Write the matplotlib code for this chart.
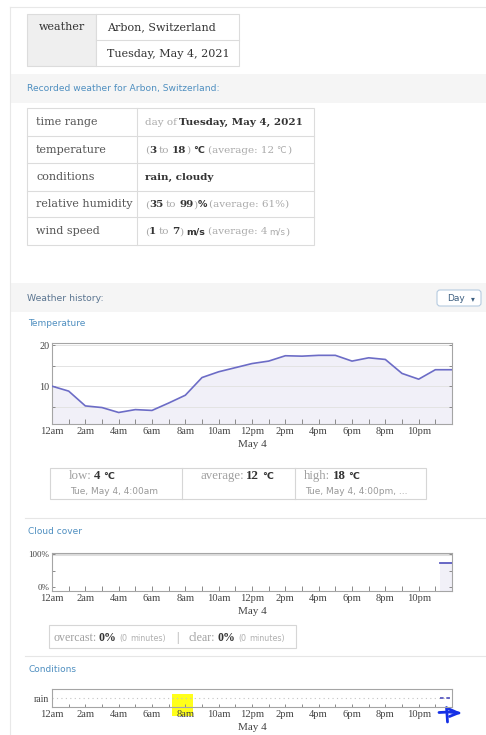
import matplotlib
matplotlib.use('Agg')
import matplotlib.pyplot as plt
from matplotlib.patches import Rectangle, FancyBboxPatch

# ---------------- data ----------------
hours = list(range(25))
temps = [10.0, 8.8, 5.2, 4.8, 3.6, 4.3, 4.1, 5.9, 7.8, 12.1, 13.5, 14.5, 15.5,
         16.1, 17.4, 17.3, 17.5, 17.5, 16.1, 16.9, 16.5, 13.1, 11.7, 14.0, 14.0]
cloud_hours = [23.3, 24.0]
cloud_values = [74, 74]
cond_categories = ['rain']
cond_hours = [23.3, 24.0]
cond_values = ['rain', 'rain']
hour_labels = ['12am', '2am', '4am', '6am', '8am', '10am', '12pm', '2pm', '4pm',
               '6pm', '8pm', '10pm']
date_label = 'May 4'

# ---------------- figure ----------------
W, H = 486, 735
fig = plt.figure(figsize=(W / 100, H / 100), dpi=100)
bg = fig.add_axes([0, 0, 1, 1])
bg.set_xlim(0, W)
bg.set_ylim(H, 0)
bg.axis('off')
R = fig.canvas.get_renderer()

SERIF = 'Liberation Serif'
TSERIF = 'DejaVu Serif'
SANS = 'DejaVu Sans'
DARK = '#333333'
BLUE = '#4f8fc0'
BORDER = '#dcdcdc'
SP = 2.6


def runs(x, y, parts, **common):
    cur = x
    for s, kw in parts:
        lead = len(s) - len(s.lstrip(' '))
        trail = len(s) - len(s.rstrip(' '))
        core = s.strip(' ')
        d = dict(common)
        d.update(kw)
        cur += lead * SP
        if core:
            t = bg.text(cur, y, core, ha='left', va='baseline', **d)
            cur += t.get_window_extent(R).width
        cur += trail * SP
    return cur


def rect(x0, y0, x1, y1, fc='none', ec=BORDER, lw=0.8, z=1):
    bg.add_patch(Rectangle((x0, y0), x1 - x0, y1 - y0, fc=fc, ec=ec, lw=lw, zorder=z))


def hline(y, x0, x1, c='#e6e6e6', lw=0.8):
    bg.plot([x0, x1], [y, y], color=c, lw=lw, zorder=1)


def vline(x, y0, y1, c=BORDER, lw=0.8):
    bg.plot([x, x], [y0, y1], color=c, lw=lw, zorder=1)


# page frame
hline(7, 10, W, c='#e8e8e8')
vline(10, 7, H, c='#e8e8e8')

# top table
rect(27, 14, 96, 66, fc='#efefef', ec=BORDER)
rect(96, 14, 239, 66, fc='white', ec=BORDER)
hline(39.5, 96, 239, c=BORDER)
sv = dict(family=TSERIF, size=8, color=DARK)
bg.text(62, 30, 'weather', ha='center', va='baseline', **sv)
bg.text(107, 30, 'Arbon, Switzerland', ha='left', va='baseline', **sv)
bg.text(107, 56.5, 'Tuesday, May 4, 2021', ha='left', va='baseline', **sv)

# band 1
bg.add_patch(Rectangle((10.5, 74), W - 10, 29, fc='#f5f5f5', ec='none', zorder=0))
bg.text(27, 88, 'Recorded weather for Arbon, Switzerland:', family=SANS, size=6.6,
        color=BLUE, va='center', ha='left')

# table 2
rows_y = [108, 136, 163, 191, 217, 245]
rect(27, 108, 314, 245, fc='white', ec=BORDER)
for yy in rows_y[1:-1]:
    hline(yy, 27, 314, c=BORDER)
vline(137, 108, 245)
left_labels = ['time range', 'temperature', 'conditions', 'relative humidity', 'wind speed']
g = dict(color='#aaaaaa')
b = dict(weight='bold', color=DARK)
u = dict(weight='bold', color=DARK, family=SANS, size=6.8)
ug = dict(color='#aaaaaa', family=SANS, size=6.3)
right_parts = [
    [('day of ', g), ('Tuesday, May 4, 2021', b)],
    [('(', g), ('3', b), (' to ', g), ('18', b), (')', g), (' °C', u), (' (average: 12 ', g), ('°C', ug), (')', g)],
    [('rain, cloudy', b)],
    [('(', g), ('35', b), (' to ', g), ('99', b), (')', g), ('%', u), (' (average: 61%)', g)],
    [('(', g), ('1', b), (' to ', g), ('7', b), (')', g), (' m/s', u), (' (average: 4 ', g), ('m/s', ug), (')', g)],
]
for i, (lab, parts) in enumerate(zip(left_labels, right_parts)):
    yc = (rows_y[i] + rows_y[i + 1]) / 2 + 3.2
    bg.text(36, yc, lab, family=TSERIF, size=8, color='#555555', va='baseline', ha='left')
    runs(145, yc, parts, family=TSERIF, size=7.5)

# band 2
bg.add_patch(Rectangle((10.5, 283), W - 10, 29, fc='#f5f5f5', ec='none', zorder=0))
bg.text(27, 298, 'Weather history:', family=SANS, size=6.7, color='#5a7590',
        va='center', ha='left')
bg.add_patch(FancyBboxPatch((437, 290), 44, 16,
                            boxstyle='round,pad=0,rounding_size=3',
                            fc='white', ec='#b6cbe0', lw=0.8, zorder=2))
bg.text(456, 298.5, 'Day', family=SANS, size=6.5, color='#3d5f80', va='center',
        ha='center', zorder=3)
bg.text(473, 298.5, '▾', family=SANS, size=5.5, color='#3d5f80', va='center',
        ha='center', zorder=3)

# section headings
for txt, yy in [('Temperature', 323), ('Cloud cover', 531), ('Conditions', 670)]:
    bg.text(28, yy, txt, family=SANS, size=6.5, color=BLUE, va='center', ha='left')

hline(518, 25, W)
hline(656, 25, W)


def px_axes(x0, y0, x1, y1):
    a = fig.add_axes([x0 / W, 1 - y1 / H, (x1 - x0) / W, (y1 - y0) / H])
    a.set_facecolor('none')
    return a


def style_time_axis(a):
    for s in a.spines.values():
        s.set_color('#a5a5a5')
        s.set_linewidth(0.8)
    a.set_xlim(0, 24)
    a.set_xticks(range(0, 23, 2))
    a.set_xticklabels(hour_labels)
    a.set_xticks(list(range(1, 24, 2)) + [24], minor=True)
    a.tick_params(axis='x', which='both', direction='in', length=3.5,
                  color='#8a8a8a', width=0.7, pad=2, labelsize=7.6, labelcolor='#444444')
    a.tick_params(axis='y', which='both', direction='in', length=2.5, color='#8a8a8a',
                  width=0.7, pad=2, labelsize=7.3, labelcolor='#444444',
                  left=True, right=True)
    for lab in a.get_xticklabels() + a.get_yticklabels():
        lab.set_family(SERIF)


# temperature chart
ax = px_axes(52, 343, 452, 424)
ylo, yhi = 0.8, 20.5
ax.fill_between(hours, temps, ylo, color='#f1f0f8', lw=0, zorder=0.3)
ax.plot(hours, temps, color='#6c6cc6', lw=1.2, zorder=3)
ax.set_ylim(ylo, yhi)
ax.set_yticks([10, 20])
ax.set_yticks([5, 15], minor=True)
ax.grid(axis='y', which='both', color='#e3e3e3', lw=0.7)
style_time_axis(ax)
bg.text(252, 444, date_label, family=SERIF, size=8, color='#444444', ha='center', va='center')

# temperature stats box
rect(50, 468, 426, 499, fc='white', ec='#d6d6d6')
vline(182, 468, 499, c='#d6d6d6')
vline(295, 468, 499, c='#d6d6d6')
st = dict(family=SERIF, size=9.3)
runs(69, 479, [('low: ', dict(color='#a0a0a0')), ('4', b), (' °C', u)], **st)
runs(200, 479, [('average: ', dict(color='#a0a0a0')), ('12', b), (' °C', u)], **st)
runs(304, 479, [('high: ', dict(color='#a0a0a0')), ('18', b), (' °C', u)], **st)
bg.text(70, 491, 'Tue, May 4, 4:00am', family=SANS, size=6.5, color='#999999', va='center')
bg.text(305, 491, 'Tue, May 4, 4:00pm, ...', family=SANS, size=6.5, color='#999999', va='center')

# cloud cover chart
ac = px_axes(52, 553, 452, 591)
clo, chi = -12, 103
ac.fill_between(cloud_hours, cloud_values, clo, color='#f1f0f8', lw=0, zorder=0.3)
ac.plot(cloud_hours, cloud_values, color='#5a5ac0', lw=1.3, zorder=3)
ac.set_ylim(clo, chi)
ac.set_yticks([0, 100])
ac.set_yticklabels(['0%', '100%'])
ac.set_yticks([50], minor=True)
ac.axhline(100, color='#dedede', lw=2.2, zorder=0.2)
style_time_axis(ac)
ac.tick_params(axis='y', labelsize=6.5)
bg.text(252, 612, date_label, family=SERIF, size=8, color='#444444', ha='center', va='center')

# cloud stats box
rect(49, 625, 296, 648, fc='white', ec='#d6d6d6')
gs = dict(color='#a0a0a0')
gsm = dict(color='#b0b0b0', family=SANS, size=5.8)
runs(53, 641, [('overcast: ', gs), ('0%', b), (' (0', gsm), (' minutes)', gsm),
               ('    |    ', gs), ('clear: ', gs), ('0%', b), (' (0', gsm), (' minutes)', gsm)],
     family=SERIF, size=8.6)

# conditions chart
ak = px_axes(52, 689, 452, 707)
ak.set_ylim(-1, 1)
ak.set_yticks([0])
ak.set_yticklabels(cond_categories)
ak.axhline(0, color='#c4c4c4', ls=(0, (1, 3)), lw=0.8, zorder=1)
cond_y = [cond_categories.index(v) for v in cond_values]
ak.plot(cond_hours, cond_y, color='#5a5ac0', ls=(0, (2, 1.5)), lw=1.3, zorder=3)
style_time_axis(ak)
ak.tick_params(axis='y', which='both', length=0, labelsize=7)
ak.tick_params(axis='x', which='both', length=2)
bg.text(252, 728, date_label, family=SERIF, size=8, color='#444444', ha='center', va='center')

# highlight + pen mark
bg.add_patch(Rectangle((172, 694), 21, 22, fc='#ffff1a', ec='none', zorder=0.5))
pen = dict(color='#1530e6', lw=2.0, solid_capstyle='round', solid_joinstyle='round', zorder=10)
bg.plot([439, 449, 459], [712.5, 712, 713], **pen)
bg.plot([446.5, 447, 447.5], [707.5, 714, 722], **pen)
bg.plot([449, 458, 449.5], [709, 713, 716.5], **pen)

fig.savefig('out.png', dpi=100, facecolor='white')
